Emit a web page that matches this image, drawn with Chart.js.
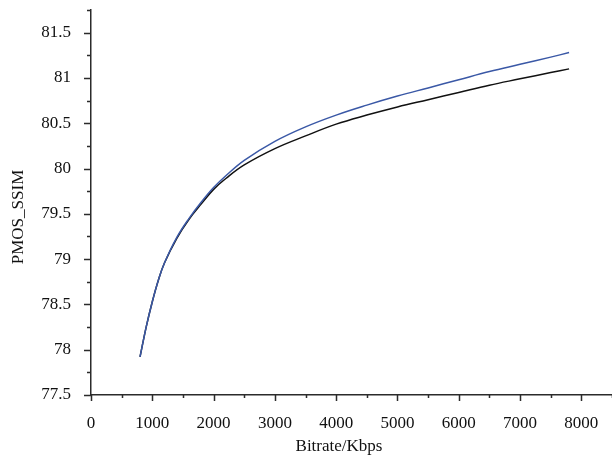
<!DOCTYPE html>
<html lang="en">
<head>
<meta charset="UTF-8">
<title>PMOS_SSIM vs Bitrate</title>
<script src="https://cdn.jsdelivr.net/npm/chart.js@4.4.1/dist/chart.umd.min.js"></script>
<style>
  html, body { margin: 0; padding: 0; background: #fff; }
</style>
</head>
<body>
<canvas id="myChart" width="612" height="470"></canvas>
<script>
// bitrate samples (Kbps)
var bitrates = [800, 900, 1000, 1100, 1200, 1400, 1600, 1800, 2000, 2200, 2500,
                3000, 3500, 4000, 4500, 5000, 5500, 6000, 6500, 7000, 7500, 7800];
// upper (blue) curve
var blueVals = [77.92, 78.25, 78.53, 78.77, 78.96, 79.24, 79.45, 79.63, 79.79, 79.92, 80.09,
                80.30, 80.46, 80.59, 80.70, 80.80, 80.89, 80.98, 81.07, 81.15, 81.23, 81.28];
// lower (black) curve
var blackVals = [77.92, 78.25, 78.53, 78.77, 78.96, 79.23, 79.44, 79.61, 79.77, 79.89, 80.04,
                 80.22, 80.36, 80.49, 80.59, 80.68, 80.76, 80.84, 80.92, 80.99, 81.06, 81.10];

var xTickStep = 500, xLabelStep = 1000;
var yTickStep = 0.25, yLabelStep = 0.5;

var f_points = function(p_vals){
    var v_pts = [];
    for(var i=0; i<bitrates.length; i++)
        v_pts.push({x: bitrates[i], y: p_vals[i]});
    return v_pts;
};

var serif = "'Liberation Serif', 'DejaVu Serif', serif";
var axisColor = '#2b2b2b';

// drop the extra room chart.js keeps for end labels
var f_noPad = function(s){
    s.paddingLeft = 0; s.paddingRight = 0;
    s.paddingTop = 0; s.paddingBottom = 0;
};

// tick marks: long for labelled ticks, short for the in-between ones
var tickMarks = {
    id: 'tickMarks',
    afterDraw: function(chart){
        var ctx = chart.ctx;
        var xs = chart.scales.x, ys = chart.scales.y;
        var area = chart.chartArea;
        ctx.save();
        ctx.strokeStyle = axisColor;
        ctx.lineWidth = 1.5;
        ctx.beginPath();
        xs.ticks.forEach(function(t){
            var px = Math.round(xs.getPixelForValue(t.value)) + 0.5;
            var len = (Math.abs(t.value % xLabelStep) < 1e-6) ? 6 : 3;
            ctx.moveTo(px, area.bottom);
            ctx.lineTo(px, area.bottom + len);
        });
        ys.ticks.forEach(function(t){
            var py = Math.round(ys.getPixelForValue(t.value)) + 0.5;
            var r = Math.abs((t.value / yLabelStep) - Math.round(t.value / yLabelStep));
            var len = (r < 1e-6) ? 7 : 4;
            ctx.moveTo(area.left, py);
            ctx.lineTo(area.left - len, py);
        });
        ctx.stroke();

        // axis titles
        ctx.fillStyle = '#111';
        ctx.font = "17px " + serif;
        ctx.textAlign = 'center';
        ctx.textBaseline = 'middle';
        ctx.fillText('Bitrate/Kbps', 339, 447);
        ctx.translate(19, 217);
        ctx.rotate(-Math.PI / 2);
        ctx.fillText('PMOS_SSIM', 0, 0);
        ctx.restore();
    }
};

const ctx = document.getElementById('myChart').getContext('2d');
const myChart = new Chart(ctx, {
    type: 'line',
    data: {
        datasets: [{
            label: 'blue',
            data: f_points(blueVals),
            borderColor: '#3a58a6',
            borderWidth: 1.5,
            pointRadius: 0,
            tension: 0.4,
            fill: false
        }, {
            label: 'black',
            data: f_points(blackVals),
            borderColor: '#111111',
            borderWidth: 1.5,
            pointRadius: 0,
            tension: 0.4,
            fill: false
        }]
    },
    options: {
        responsive: false,
        animation: false,
        layout: { padding: { top: 10, right: 0, left: 0, bottom: 0 } },
        plugins: {
            legend: { display: false },
            tooltip: { enabled: false }
        },
        scales: {
            x: {
                type: 'linear',
                min: 0,
                max: 8500,
                grid: { display: false },
                border: { display: true, color: axisColor, width: 1.5 },
                ticks: {
                    stepSize: xTickStep,
                    autoSkip: false,
                    maxRotation: 0,
                    padding: 10,
                    color: '#111',
                    font: { family: serif, size: 17 },
                    callback: function(v){ return (v % xLabelStep === 0) ? v : ''; }
                },
                afterFit: function(s){ s.height = 75; f_noPad(s); }
            },
            y: {
                min: 77.5,
                max: 81.75,
                grid: { display: false },
                border: { display: true, color: axisColor, width: 1.5 },
                ticks: {
                    stepSize: yTickStep,
                    autoSkip: false,
                    padding: 12,
                    color: '#111',
                    font: { family: serif, size: 17 },
                    callback: function(v){
                        var r = Math.abs((v / yLabelStep) - Math.round(v / yLabelStep));
                        return (r < 1e-6) ? v : '';
                    }
                },
                afterFit: function(s){ s.width = 91; f_noPad(s); }
            }
        }
    },
    plugins: [tickMarks]
});
</script>
</body>
</html>
